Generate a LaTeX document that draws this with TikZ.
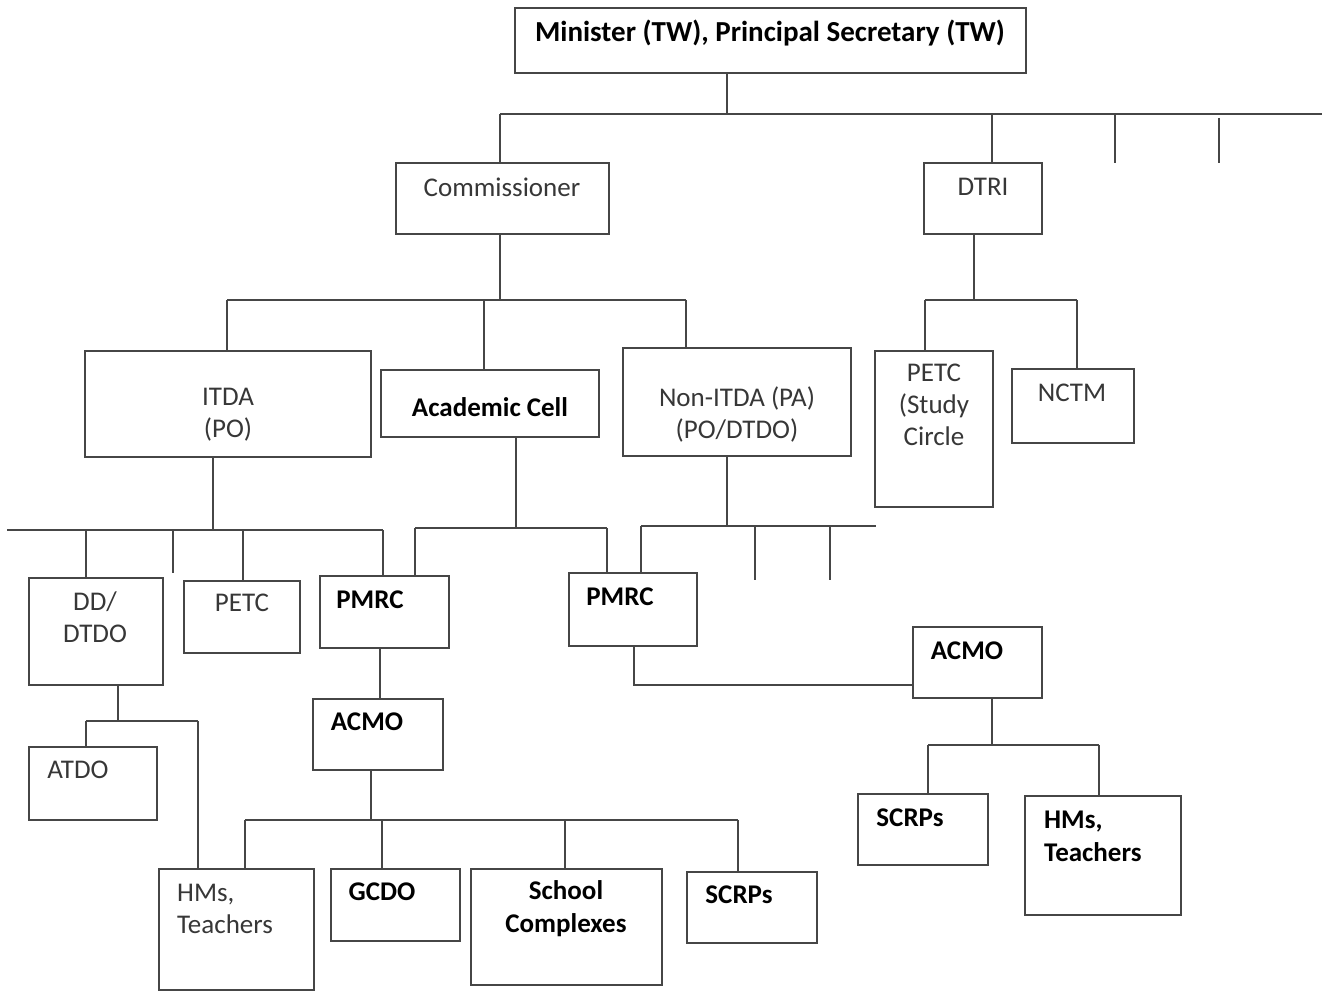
\documentclass[tikz,border=0pt]{standalone}
\usepackage{fontspec}
\setmainfont{Carlito}
\definecolor{lc}{RGB}{70,70,70}
\definecolor{tc}{RGB}{55,55,55}
\tikzset{
  bx/.style={draw=lc, line width=2pt, inner sep=0pt, outer sep=0pt, anchor=north west},
  cn/.style={draw=lc, line width=2pt},
  txt/.style={font=\fontsize{27}{32}\selectfont, text=tc, inner sep=0pt, align=center},
  btx/.style={font=\fontsize{27}{33}\selectfont\bfseries, text=black, inner sep=0pt, align=center}
}
\newcommand\mybox[5]{\node[bx, minimum width={(#4-#2)*1pt}, minimum height={(#5-#3)*1pt}] (#1) at (#2,#3) {};}
\begin{document}
\begin{tikzpicture}[x=1pt,y=-1pt]
\useasboundingbox (0,0) rectangle (1334,992);
\fill[white] (0,0) rectangle (1334,992);
% boxes
\mybox{mini}{515}{8}{1026}{73}
\mybox{comm}{396}{163}{609}{234}
\mybox{dtri}{924}{163}{1042}{234}
\mybox{itda}{85}{351}{371}{457}
\mybox{acad}{381}{370}{599}{437}
\mybox{nitda}{623}{348}{851}{456}
\mybox{petcs}{875}{351}{993}{507}
\mybox{nctm}{1012}{369}{1134}{443}
\mybox{dd}{29}{578}{163}{685}
\mybox{petc}{184}{581}{300}{653}
\mybox{pmrca}{320}{576}{449}{648}
\mybox{pmrcb}{569}{573}{697}{646}
\mybox{atdo}{29}{747}{157}{820}
\mybox{acmoa}{313}{699}{443}{770}
\mybox{acmob}{913}{627}{1042}{698}
\mybox{hmsa}{159}{869}{314}{990}
\mybox{gcdo}{331}{869}{460}{941}
\mybox{school}{471}{869}{662}{985}
\mybox{scrpsa}{687}{872}{817}{943}
\mybox{scrpsb}{858}{794}{988}{865}
\mybox{hmsb}{1025}{796}{1181}{915}
% texts
\node[btx, font=\fontsize{29}{34}\selectfont\bfseries] (miniT) at (770,33) {Minister (TW), Principal Secretary (TW)};
\node[txt] (commT) at (502,187) {Commissioner};
\node[txt] (dtriT) at (983,187) {DTRI};
\node[txt] (itdaT) at (228,415) {ITDA\\(PO)};
\node[btx] (acadT) at (490,407) {Academic Cell};
\node[txt] (nitdaT) at (737,414) {Non-ITDA (PA)\\(PO/DTDO)};
\node[txt] (petcsT) at (934,405) {PETC\\(Study\\Circle};
\node[txt] (nctmT) at (1072,393) {NCTM};
\node[txt] (ddT) at (95,617) {DD/\\DTDO};
\node[txt] (petcT) at (242,603) {PETC};
\node[btx] (pmrcaT) at (370,600) {PMRC};
\node[btx] (pmrcbT) at (620,597) {PMRC};
\node[txt] (atdoT) at (78,770) {ATDO};
\node[btx] (acmoaT) at (367,722) {ACMO};
\node[btx] (acmobT) at (967,651) {ACMO};
\node[txt, align=left, anchor=west] (hmsaT) at (177,909) {HMs,\\Teachers};
\node[btx] (gcdoT) at (382,892) {GCDO};
\node[btx] (schoolT) at (566,909) {School\\Complexes};
\node[btx] (scrpsaT) at (739,895) {SCRPs};
\node[btx] (scrpsbT) at (910,818) {SCRPs};
\node[btx, align=left, anchor=west] (hmsbT) at (1044,836) {HMs,\\Teachers};
% connectors: top
\coordinate (j0) at (727,114);
\coordinate (j0L) at (500,114);
\coordinate (j0R) at (1322,114);
\coordinate (s1) at (992,114);
\coordinate (s2) at (1115,114); \coordinate (s2e) at (1115,163);
\coordinate (s3) at (1219,118); \coordinate (s3e) at (1219,163);
\draw[cn] (mini.south -| j0) -- (j0);
\draw[cn] (j0L) -- (j0R);
\draw[cn] (j0L) -- (comm.north -| j0L);
\draw[cn] (s1) -- (dtri.north -| s1);
\draw[cn] (s2) -- (s2e);
\draw[cn] (s3) -- (s3e);
% commissioner
\coordinate (j1) at (500,300); \coordinate (j1L) at (227,300);
\coordinate (j1R) at (686,300); \coordinate (j1M) at (484,300);
\draw[cn] (comm.south -| j1) -- (j1);
\draw[cn] (j1L) -- (j1R);
\draw[cn] (j1L) -- (itda.north -| j1L);
\draw[cn] (j1M) -- (acad.north -| j1M);
\draw[cn] (j1R) -- (nitda.north -| j1R);
% DTRI
\coordinate (j2) at (974,300); \coordinate (j2L) at (925,300); \coordinate (j2R) at (1077,300);
\draw[cn] (dtri.south -| j2) -- (j2);
\draw[cn] (j2L) -- (j2R);
\draw[cn] (j2L) -- (petcs.north -| j2L);
\draw[cn] (j2R) -- (nctm.north -| j2R);
% ITDA
\coordinate (j3) at (213,530); \coordinate (j3L) at (7,530); \coordinate (j3R) at (383,530);
\coordinate (d1) at (86,530); \coordinate (d2) at (173,530); \coordinate (d2e) at (173,573);
\coordinate (d3) at (243,530);
\draw[cn] (itda.south -| j3) -- (j3);
\draw[cn] (j3L) -- (j3R);
\draw[cn] (d1) -- (dd.north -| d1);
\draw[cn] (d2) -- (d2e);
\draw[cn] (d3) -- (petc.north -| d3);
\draw[cn] (j3R) -- (pmrca.north -| j3R);
% Academic cell
\coordinate (j4) at (516,528); \coordinate (j4L) at (415,528); \coordinate (j4R) at (607,528);
\draw[cn] (acad.south -| j4) -- (j4);
\draw[cn] (j4L) -- (j4R);
\draw[cn] (j4L) -- (pmrca.north -| j4L);
\draw[cn] (j4R) -- (pmrcb.north -| j4R);
% Non-ITDA
\coordinate (j5) at (727,526); \coordinate (j5L) at (641,526); \coordinate (j5R) at (876,526);
\coordinate (d4) at (755,526); \coordinate (d4e) at (755,580);
\coordinate (d5) at (830,526); \coordinate (d5e) at (830,580);
\draw[cn] (nitda.south -| j5) -- (j5);
\draw[cn] (j5L) -- (j5R);
\draw[cn] (j5L) -- (pmrcb.north -| j5L);
\draw[cn] (d4) -- (d4e);
\draw[cn] (d5) -- (d5e);
% DD/DTDO
\coordinate (j6) at (118,721); \coordinate (j6L) at (86,721); \coordinate (j6R) at (198,721);
\draw[cn] (dd.south -| j6) -- (j6);
\draw[cn] (j6L) -- (j6R);
\draw[cn] (j6L) -- (atdo.north -| j6L);
\draw[cn] (j6R) -- (hmsa.north -| j6R);
% PMRC a -> ACMO a
\coordinate (k1) at (380,670);
\draw[cn] (pmrca.south -| k1) -- (acmoa.north -| k1);
% ACMO a
\coordinate (j7) at (371,820); \coordinate (j7L) at (245,820); \coordinate (j7R) at (738,820);
\coordinate (e1) at (382,820); \coordinate (e2) at (565,820);
\draw[cn] (acmoa.south -| j7) -- (j7);
\draw[cn] (j7L) -- (j7R);
\draw[cn] (j7L) -- (hmsa.north -| j7L);
\draw[cn] (e1) -- (gcdo.north -| e1);
\draw[cn] (e2) -- (school.north -| e2);
\draw[cn] (j7R) -- (scrpsa.north -| j7R);
% PMRC b -> ACMO b
\coordinate (k2) at (634,685);
\draw[cn] (pmrcb.south -| k2) -- (k2) -- (acmob.west |- k2);
% ACMO b
\coordinate (j8) at (992,745); \coordinate (j8L) at (928,745); \coordinate (j8R) at (1099,745);
\draw[cn] (acmob.south -| j8) -- (j8);
\draw[cn] (j8L) -- (j8R);
\draw[cn] (j8L) -- (scrpsb.north -| j8L);
\draw[cn] (j8R) -- (hmsb.north -| j8R);
\end{tikzpicture}
\end{document}
